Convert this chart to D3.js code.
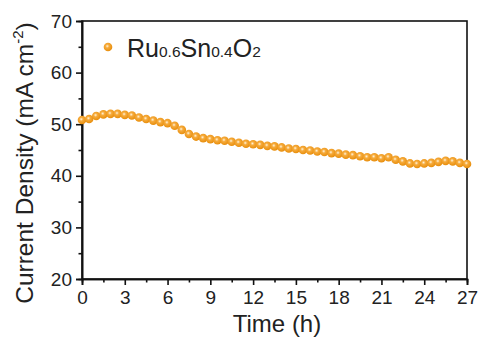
<!DOCTYPE html>
<html>
<head>
<meta charset="utf-8">
<script src="https://cdn.jsdelivr.net/npm/d3@7"></script>
<style>
  body { margin: 0; background: #fff; }
  svg text { font-family: Arial, "Liberation Sans", sans-serif; fill: #222; }
</style>
</head>
<body>
<svg id="chart" width="483" height="340"></svg>
<script>
// time (h) and current density (mA cm-2)
var times = d3.range(0, 27.01, 0.5);
var density = [
  50.8, 51.0, 51.6, 51.9, 52.0, 52.0, 51.8, 51.7, 51.3, 51.0,
  50.7, 50.4, 50.2, 49.7, 48.9, 48.1, 47.6, 47.3, 47.1, 46.9,
  46.8, 46.6, 46.4, 46.2, 46.1, 46.0, 45.8, 45.7, 45.5, 45.3,
  45.2, 45.0, 44.9, 44.7, 44.6, 44.4, 44.3, 44.1, 44.0, 43.8,
  43.6, 43.6, 43.4, 43.6, 43.1, 42.8, 42.4, 42.3, 42.4, 42.5,
  42.7, 42.9, 42.8, 42.5, 42.3
];
var xTicks = [0, 3, 6, 9, 12, 15, 18, 21, 24, 27];
var yTicks = [20, 30, 40, 50, 60, 70];

var svg = d3.select("#chart");
var m = {left: 82, right: 467, top: 21, bottom: 279};

var x = d3.scaleLinear().domain([0, 27]).range([m.left, m.right]);
var y = d3.scaleLinear().domain([20, 70]).range([m.bottom, m.top]);

// sphere-like marker fill
var defs = svg.append("defs");
var grad = defs.append("radialGradient").attr("id", "ball")
    .attr("cx", "42%").attr("cy", "40%").attr("r", "60%");
grad.append("stop").attr("offset", "0%").attr("stop-color", "#fff4dc");
grad.append("stop").attr("offset", "35%").attr("stop-color", "#f6ab3c");
grad.append("stop").attr("offset", "100%").attr("stop-color", "#e88e0c");

// frame
svg.append("rect")
    .attr("x", m.left).attr("y", m.top)
    .attr("width", m.right - m.left).attr("height", m.bottom - m.top)
    .attr("fill", "none").attr("stroke", "#111").attr("stroke-width", 1.6);

// minor ticks
var xMinor = d3.range(1.5, 27, 3);
var yMinor = d3.range(25, 70, 10);

var xAxis = svg.append("g").attr("transform", "translate(0," + m.bottom + ")")
    .call(d3.axisBottom(x).tickValues(xTicks).tickSize(6).tickPadding(6).tickFormat(d3.format("d")));
var xMin = svg.append("g").attr("transform", "translate(0," + m.bottom + ")")
    .call(d3.axisBottom(x).tickValues(xMinor).tickSize(3.5).tickFormat(""));
var yAxis = svg.append("g").attr("transform", "translate(" + m.left + ",0)")
    .call(d3.axisLeft(y).tickValues(yTicks).tickSize(6).tickPadding(4).tickFormat(d3.format("d")));
var yMin = svg.append("g").attr("transform", "translate(" + m.left + ",0)")
    .call(d3.axisLeft(y).tickValues(yMinor).tickSize(3.5).tickFormat(""));

[xAxis, xMin, yAxis, yMin].forEach(function(g) {
  g.select(".domain").attr("stroke", "#111").attr("stroke-width", 1.6);
  g.selectAll(".tick line").attr("stroke", "#111").attr("stroke-width", 1.6);
  g.selectAll(".tick text").attr("font-size", 19).attr("fill", "#222")
    .attr("font-family", "Arial, 'Liberation Sans', sans-serif");
});

// data markers
svg.append("g").selectAll("circle")
    .data(times.map(function(t, i) { return {t: t, v: density[i]}; }))
    .join("circle")
    .attr("cx", function(d) { return x(d.t); })
    .attr("cy", function(d) { return y(d.v); })
    .attr("r", 4.3)
    .attr("fill", "url(#ball)");

// legend
svg.append("circle").attr("cx", 108).attr("cy", 47).attr("r", 4.3).attr("fill", "url(#ball)");
var leg = svg.append("text").attr("x", 127).attr("y", 57).attr("font-size", 25);
leg.append("tspan").text("Ru");
leg.append("tspan").attr("font-size", 15.5).text("0.6");
leg.append("tspan").text("Sn");
leg.append("tspan").attr("font-size", 15.5).text("0.4");
leg.append("tspan").text("O");
leg.append("tspan").attr("font-size", 15.5).text("2");

// axis titles
svg.append("text")
    .attr("x", 277).attr("y", 332)
    .attr("text-anchor", "middle").attr("font-size", 24)
    .text("Time (h)");

var yl = svg.append("text")
    .attr("transform", "translate(33,163) rotate(-90)")
    .attr("text-anchor", "middle").attr("font-size", 24.5);
yl.append("tspan").text("Current Density (mA cm");
yl.append("tspan").attr("font-size", 15).attr("dy", -10).text("-2");
yl.append("tspan").attr("dy", 10).text(")");
</script>
</body>
</html>
